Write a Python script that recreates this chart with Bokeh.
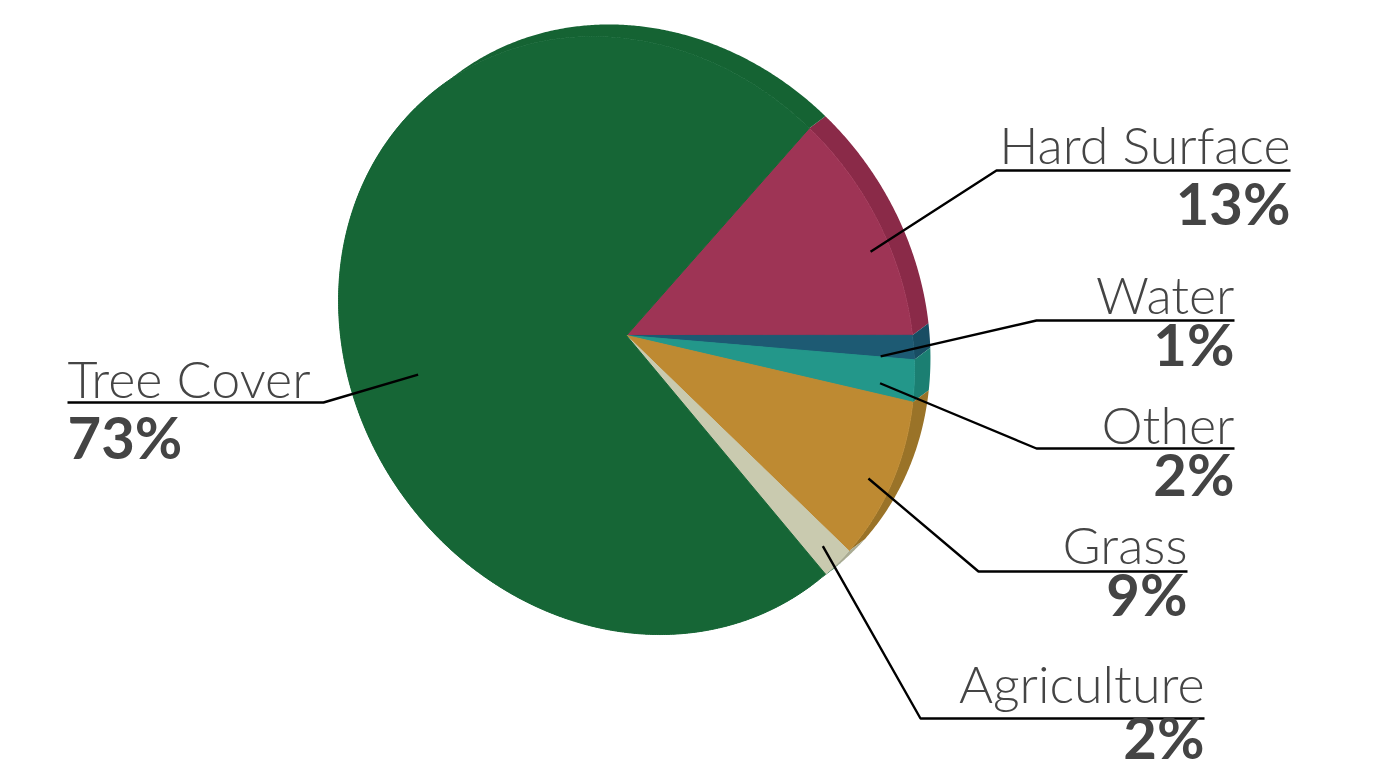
import numpy as np
from bokeh.plotting import figure
from bokeh.models import Range1d, ColumnDataSource
from bokeh.embed import file_html
from bokeh.resources import INLINE
from bokeh.core.properties import value

# ---------------- data ----------------
categories = ["Hard Surface", "Water", "Other", "Grass", "Agriculture", "Tree Cover"]
shares = [13.49, 1.35, 2.3, 8.6, 1.7, 72.56]          # percent of land cover
pct_labels = [f"{int(v + 0.5)}%" for v in shares]
face_colors = ["#9e3455", "#1d5a73", "#23978a", "#be8a32", "#c9caaf", "#166636"]
rim_colors = ["#8a2a48", "#184d63", "#1b7f72", "#9a7328", "#a9ab93", "#156333"]

# ---------------- layout (image pixel coordinates, y downward) ----------------
CX, CY = 626.0, 335.0        # pie face centre (slice vertex)
# face outline: 1/r^2 = QA cos^2 + QB sin^2 + 2 QC sin cos  (slightly tilted disc)
QA, QB, QC = 1 / 286.0 ** 2, 1 / 297.0 ** 2, 1.37e-6
START = 48.6                 # degrees, slices run clockwise from here
VX, VY = 16.0, -12.0         # extrusion (3-D rim) vector

# label layout: x anchor, name baseline, underline y, elbow x, pct baseline
lab_x = [1290, 1234, 1234, 1187, 1204, 67]
lab_align = ["right", "right", "right", "right", "right", "left"]
name_base = [163, 313, 443, 563, 702, 397]
ul_y = [170, 320, 448, 571, 718, 402]
elbow_x = [996, 1036, 1036, 978, 920, 323]
pct_base = [223, 364, 494, 614, 757, 457]
anchor_r = [258, 255, 258, 281, 288, 212]       # radius of leader start
anchor_dt = [-5.4, -2.3, -1.7, -2.0, 0.1, 11.4]   # angular nudge of leader start
NAME_SHIFT, PCT_SHIFT = -20, -21                  # renderer baseline correction

W, H = 1376, 772
p = figure(width=W, height=H, x_range=Range1d(0, W), y_range=Range1d(H, 0),
           x_axis_type=None, y_axis_type=None, output_backend="svg",
           toolbar_location=None, min_border=0, background_fill_color="white",
           border_fill_color="white")
p.grid.visible = False
p.outline_line_color = None


def rad(th):
    c, s = np.cos(th), np.sin(th)
    return 1.0 / np.sqrt(QA * c * c + QB * s * s + 2 * QC * s * c)


def arc(a0, a1):
    n = max(4, int(abs(a1 - a0) * 3))
    th = np.radians(np.linspace(a0, a1, n))
    r = rad(th)
    return CX + r * np.cos(th), CY - r * np.sin(th)


angles = np.array(shares) / sum(shares) * 360.0
ends = START - np.cumsum(angles)
starts = ends + angles
mids = (starts + ends) / 2

face_xs, face_ys, rim_xs, rim_ys = [], [], [], []
for a0, a1 in zip(starts, ends):
    ax_, ay_ = arc(a0, a1)
    face_xs.append(np.concatenate([[CX], ax_]).tolist())
    face_ys.append(np.concatenate([[CY], ay_]).tolist())
    rim_xs.append(np.concatenate([ax_, (ax_ + VX)[::-1]]).tolist())
    rim_ys.append(np.concatenate([ay_, (ay_ + VY)[::-1]]).tolist())

p.patches(rim_xs, rim_ys, fill_color=rim_colors, line_color=None)
p.patches(face_xs, face_ys, fill_color=face_colors, line_color=face_colors, line_width=1)

# leader lines
lx, ly = [], []
for i in range(len(categories)):
    th = np.radians(mids[i] + anchor_dt[i])
    x0 = CX + anchor_r[i] * np.cos(th)
    y0 = CY - anchor_r[i] * np.sin(th)
    lx.append([x0, elbow_x[i], lab_x[i]])
    ly.append([y0, ul_y[i], ul_y[i]])
p.multi_line(lx, ly, line_color="#000000", line_width=2.4)

src = ColumnDataSource(dict(x=lab_x,
                            ny=[b + NAME_SHIFT for b in name_base],
                            py=[b + PCT_SHIFT for b in pct_base],
                            name=categories, pct=pct_labels, align=lab_align))
p.text(x="x", y="ny", text="name", source=src, text_align="align",
       text_baseline="alphabetic", text_font=value("Lato Light"),
       text_font_size="52px", text_color="#454545")
p.text(x="x", y="py", text="pct", source=src, text_align="align",
       text_baseline="alphabetic", text_font=value("Lato"), text_font_style="bold",
       text_font_size="58px", text_color="#444444")

open("out.html", "w").write(file_html(p, INLINE))
